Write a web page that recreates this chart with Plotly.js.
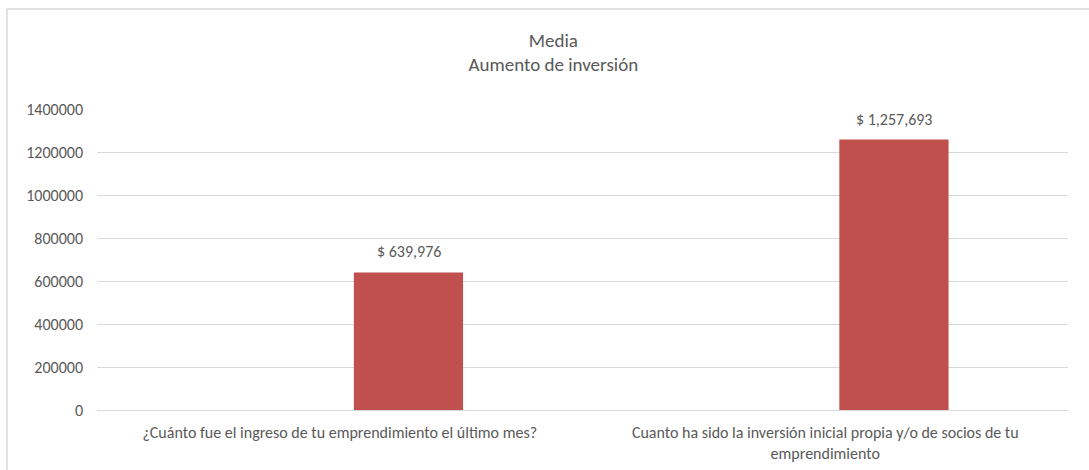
<!DOCTYPE html>
<html>
<head>
<meta charset="utf-8">
<script src="https://cdn.plot.ly/plotly-3.0.1.min.js"></script>
<style>html,body{margin:0;padding:0;background:#fff;}#chart{width:1089px;height:470px;}</style>
</head>
<body>
<div id="chart"></div>
<script>
const categories = [
  "¿Cuánto fue el ingreso de tu emprendimiento el último mes?",
  "Cuanto ha sido la inversión inicial propia y/o de socios de tu<br>emprendimiento"
];
const values = [639976, 1257693];
const valueLabels = ["$ 639,976", "$ 1,257,693"];
const yTicks = [0, 200000, 400000, 600000, 800000, 1000000, 1200000, 1400000];

const FONT = "Carlito, Calibri, Lato, 'Liberation Sans', Arial, sans-serif";
const TXT = "#595959";

const trace = {
  type: "bar",
  x: categories,
  y: values,
  marker: {color: "#C0504D"},
  width: 0.225,
  offset: 0.029,
  hoverinfo: "skip"
};

const annotations = categories.map((c, i) => ({
  x: c, y: values[i], xref: "x", yref: "y",
  text: valueLabels[i], showarrow: false,
  yanchor: "bottom", xanchor: "center",
  xshift: 69, yshift: 9,
  font: {family: FONT, size: 16, color: TXT}
}));

const layout = {
  width: 1089, height: 470,
  margin: {l: 97, r: 21, t: 109, b: 60},
  paper_bgcolor: "#fff", plot_bgcolor: "#fff",
  showlegend: false,
  font: {family: FONT, size: 16, color: TXT},
  title: {
    text: "Media<br>Aumento de inversión",
    x: 0.47, xref: "paper", xanchor: "center",
    y: 0.901, yref: "container", yanchor: "top",
    font: {family: FONT, size: 19, color: TXT}
  },
  xaxis: {
    type: "category",
    showgrid: false, zeroline: false,
    showline: true, linecolor: "#D9D9D9", linewidth: 1,
    ticks: "", tickfont: {family: FONT, size: 16, color: TXT},
    ticklabelstandoff: 8
  },
  yaxis: {
    range: [0, 1400000],
    tickmode: "array", tickvals: yTicks, ticktext: yTicks.map(String),
    showgrid: true, gridcolor: "#D9D9D9", gridwidth: 1,
    zeroline: false, showline: false, ticks: "",
    tickfont: {family: FONT, size: 16, color: TXT},
    ticklabelstandoff: 13
  },
  annotations: annotations,
  shapes: [
    {type: "line", xref: "paper", yref: "paper", x0: -0.0927, x1: 1.03, y0: 1.332, y1: 1.332, line: {color: "#D9D9D9", width: 1.5}},
    {type: "line", xref: "paper", yref: "paper", x0: -0.0927, x1: -0.0927, y0: 1.332, y1: -0.21, line: {color: "#D9D9D9", width: 1.5}}
  ]
};

Plotly.newPlot("chart", [trace], layout, {displayModeBar: false, staticPlot: true});
</script>
</body>
</html>
